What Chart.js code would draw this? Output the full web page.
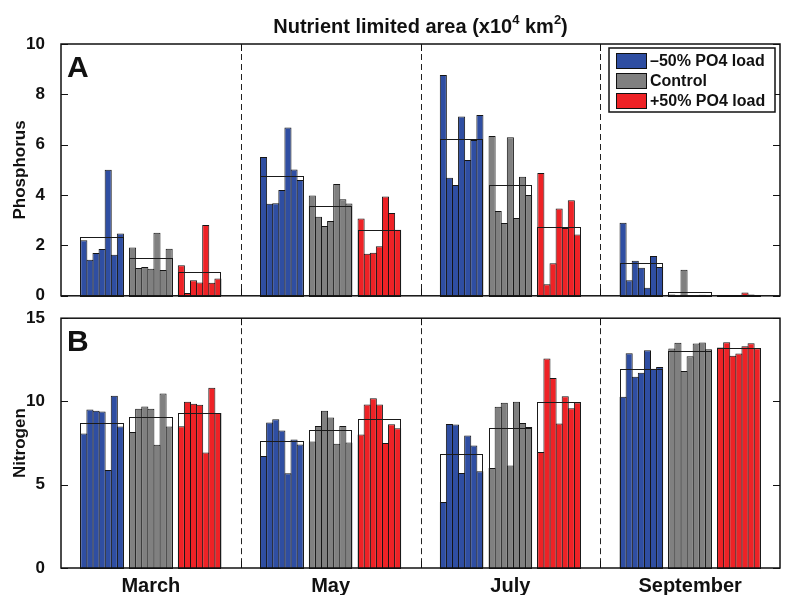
<!DOCTYPE html>
<html>
<head>
<meta charset="utf-8">
<script src="https://cdn.jsdelivr.net/npm/chart.js@4.4.1/dist/chart.umd.min.js"></script>
<style>
  html, body { margin: 0; padding: 0; background: #fff; }
  #wrap { position: relative; width: 785px; height: 595px; }
  canvas { position: absolute; left: 0; }
  #cA { top: 0; }
  #cB { top: 300px; }
</style>
</head>
<body>
<div id="wrap">
  <canvas id="cA" width="785" height="314"></canvas>
  <canvas id="cB" width="785" height="295"></canvas>
</div>
<script>
const months = ['March', 'May', 'July', 'September'];
const treatments = ['\u201350% PO4 load', 'Control', '+50% PO4 load'];
const colors = ['#2f4ea2', '#808080', '#ee2226'];
const phosTicks = [0, 2, 4, 6, 8, 10];
const nitroTicks = [0, 5, 10, 15];

// Phosphorus limited area (x10^4 km^2): one row per month, seven years each
const phosLow = [
  [2.21, 1.43, 1.70, 1.86, 5.01, 1.63, 2.47],
  [5.51, 3.66, 3.68, 4.20, 6.68, 5.02, 4.60],
  [8.77, 4.69, 4.40, 7.12, 5.39, 6.19, 7.18],
  [2.90, 0.62, 1.39, 1.11, 0.32, 1.58, 1.14]
];
const phosControl = [
  [1.92, 1.10, 1.14, 1.07, 2.50, 1.02, 1.87],
  [3.98, 3.14, 2.77, 2.97, 4.44, 3.83, 3.67],
  [6.35, 3.37, 2.89, 6.30, 3.09, 4.73, 4.00],
  [0.05, 0.03, 1.03, 0.02, 0.00, 0.04, 0.02]
];
const phosHigh = [
  [1.21, 0.11, 0.62, 0.53, 2.81, 0.52, 0.69],
  [3.07, 1.67, 1.71, 1.97, 3.94, 3.29, 2.62],
  [4.88, 0.46, 1.29, 3.47, 2.69, 3.79, 2.43],
  [0.01, 0.02, 0.03, 0.02, 0.13, 0.05, 0.02]
];
const phosLowMean = [2.33, 4.77, 6.24, 1.30];
const phosControlMean = [1.51, 3.55, 4.39, 0.17];
const phosHighMean = [0.94, 2.62, 2.72, 0.04];

// Nitrogen limited area (x10^4 km^2)
const nitroLow = [
  [8.07, 9.52, 9.44, 9.40, 5.88, 10.34, 8.49],
  [6.72, 8.73, 8.93, 8.25, 5.69, 7.71, 7.42],
  [3.96, 8.65, 8.61, 5.71, 7.95, 7.36, 5.81],
  [10.28, 12.90, 11.49, 11.73, 13.08, 11.97, 12.07]
];
const nitroControl = [
  [8.17, 9.56, 9.70, 9.56, 7.40, 10.48, 8.49],
  [7.59, 8.53, 9.44, 9.03, 7.46, 8.53, 7.53],
  [6.00, 9.68, 9.92, 6.16, 9.98, 8.71, 8.47],
  [13.18, 13.52, 11.83, 12.72, 13.48, 13.54, 13.14]
];
const nitroHigh = [
  [8.51, 9.98, 9.86, 9.80, 6.94, 10.83, 9.30],
  [8.01, 9.82, 10.20, 9.82, 7.50, 8.63, 8.39],
  [6.96, 12.58, 11.41, 8.67, 10.32, 9.60, 9.94],
  [13.24, 13.56, 12.74, 12.88, 13.32, 13.50, 13.20]
];
const nitroLowMean = [8.73, 7.63, 6.86, 11.93];
const nitroControlMean = [9.05, 8.29, 8.41, 13.06];
const nitroHighMean = [9.32, 8.93, 9.94, 13.22];

const FONT = '"Liberation Sans", Arial, Helvetica, sans-serif';
Chart.defaults.font.family = FONT;
Chart.defaults.color = '#111';

const YEARS = 7;
// three groups of seven yearly bars, separated by one empty slot
function buildDatasets(groups) {
  const ds = [];
  groups.forEach((rows, g) => {
    if (g > 0) {
      ds.push({ label: 'gap', data: months.map(() => null), backgroundColor: 'rgba(0,0,0,0)', borderWidth: 0 });
    }
    for (let yr = 0; yr < YEARS; yr++) {
      ds.push({
        label: treatments[g] + ' #' + (yr + 1),
        data: rows.map(r => r[yr]),
        backgroundColor: colors[g],
        borderColor: '#151515',
        borderWidth: 1
      });
    }
  });
  return ds;
}
const groupIndex = [[0, 6], [8, 14], [16, 22]];

// frame, dividers, tick marks, mean boxes, labels
const panelDecor = {
  id: 'panelDecor',
  afterDatasetsDraw(chart, args, o) {
    const { ctx, chartArea: a, scales: { x, y } } = chart;
    ctx.save();
    // mean of the seven years, as an open box spanning the group
    ctx.lineWidth = 1;
    ctx.strokeStyle = '#1a1a1a';
    o.means.forEach((means, g) => {
      const m0 = chart.getDatasetMeta(groupIndex[g][0]);
      const m1 = chart.getDatasetMeta(groupIndex[g][1]);
      means.forEach((m, i) => {
        const b0 = m0.data[i], b1 = m1.data[i];
        const left = Math.round(b0.x - b0.width / 2) + 0.5;
        const right = Math.round(b1.x + b1.width / 2) - 0.5;
        const top = Math.round(y.getPixelForValue(m)) + 0.5;
        const bottom = Math.round(y.getPixelForValue(0)) + 0.5;
        ctx.strokeRect(left, top, right - left, bottom - top);
      });
    });
    // dashed month dividers
    ctx.setLineDash([6, 4]);
    ctx.lineWidth = 1;
    ctx.strokeStyle = '#222';
    const divs = [];
    for (let i = 0; i < months.length - 1; i++) {
      const xp = Math.round((x.getPixelForValue(i) + x.getPixelForValue(i + 1)) / 2) + 0.5;
      divs.push(xp);
      ctx.beginPath();
      ctx.moveTo(xp, a.top);
      ctx.lineTo(xp, a.bottom);
      ctx.stroke();
    }
    ctx.setLineDash([]);
    // inward tick marks
    ctx.strokeStyle = '#111';
    ctx.lineWidth = 1;
    o.ticks.forEach(t => {
      const yp = Math.round(y.getPixelForValue(t)) + 0.5;
      ctx.beginPath();
      ctx.moveTo(a.left, yp); ctx.lineTo(a.left + 7, yp);
      ctx.moveTo(a.right - 7, yp); ctx.lineTo(a.right, yp);
      ctx.stroke();
    });
    divs.forEach(xp => {
      ctx.beginPath();
      ctx.moveTo(xp, a.top); ctx.lineTo(xp, a.top + 7);
      ctx.moveTo(xp, a.bottom - 7); ctx.lineTo(xp, a.bottom);
      ctx.stroke();
    });
    // axes box
    ctx.lineWidth = 1.5;
    ctx.strokeStyle = '#111';
    ctx.strokeRect(a.left, a.top, a.right - a.left, a.bottom - a.top);
    // panel letter
    ctx.fillStyle = '#111';
    ctx.font = 'bold 30px ' + FONT;
    ctx.textAlign = 'left';
    ctx.textBaseline = 'alphabetic';
    ctx.fillText(o.letter, a.left + 6, a.top + 33);
    // y axis title
    ctx.font = 'bold 17px ' + FONT;
    ctx.textAlign = 'center';
    ctx.textBaseline = 'middle';
    ctx.translate(20, (a.top + a.bottom) / 2);
    ctx.rotate(-Math.PI / 2);
    ctx.fillText(o.yTitle, 0, 0);
    ctx.restore();

    if (o.title) drawTitle(ctx, (a.left + a.right) / 2, 33);
    if (o.legend) drawLegend(ctx);
  }
};

function drawTitle(ctx, cx, base) {
  const big = 'bold 20px ' + FONT, small = 'bold 13px ' + FONT;
  const parts = [
    ['Nutrient limited area (x10', big, 0],
    ['4', small, -9],
    [' km', big, 0],
    ['2', small, -9],
    [')', big, 0]
  ];
  ctx.save();
  let total = 0;
  parts.forEach(p => { ctx.font = p[1]; total += ctx.measureText(p[0]).width; });
  let xp = cx - total / 2;
  ctx.fillStyle = '#111';
  ctx.textAlign = 'left';
  ctx.textBaseline = 'alphabetic';
  parts.forEach(p => {
    ctx.font = p[1];
    ctx.fillText(p[0], xp, base + p[2]);
    xp += ctx.measureText(p[0]).width;
  });
  ctx.restore();
}

function drawLegend(ctx) {
  ctx.save();
  ctx.fillStyle = '#fff';
  ctx.fillRect(609, 48, 166, 64);
  ctx.lineWidth = 1.5;
  ctx.strokeStyle = '#111';
  ctx.strokeRect(609, 48, 166, 64);
  ctx.font = 'bold 16px ' + FONT;
  ctx.textAlign = 'left';
  ctx.textBaseline = 'middle';
  treatments.forEach((t, i) => {
    const cy = 60.5 + i * 20;
    ctx.fillStyle = colors[i];
    ctx.fillRect(616, cy - 7.5, 31, 15);
    ctx.lineWidth = 1;
    ctx.strokeStyle = '#111';
    ctx.strokeRect(616.5, cy - 7, 30, 15);
    ctx.fillStyle = '#111';
    ctx.fillText(t, 650, cy + 1);
  });
  ctx.restore();
}

function makeChart(id, groups, maxY, step, opts) {
  const slot = 179.75 * 0.78 / 23;
  const xScale = {
    display: opts.showX,
    grid: { display: false },
    border: { display: false },
    ticks: { font: { size: 20, weight: 'bold' }, color: '#111', padding: -2 }
  };
  if (opts.showX) xScale.afterFit = s => { s.height = 27; };
  return new Chart(document.getElementById(id), {
    type: 'bar',
    data: { labels: months, datasets: buildDatasets(groups) },
    plugins: [panelDecor],
    options: {
      responsive: false,
      animation: false,
      devicePixelRatio: 1,
      layout: { padding: opts.padding },
      datasets: { bar: { categoryPercentage: 0.78, barPercentage: (slot + 1) / slot } },
      scales: {
        x: xScale,
        y: {
          min: 0, max: maxY,
          grid: { display: false },
          border: { display: false },
          ticks: { stepSize: step, font: { size: 17, weight: 'bold' }, color: '#111', padding: 8 },
          afterFit: s => { s.width = 61; }
        }
      },
      plugins: {
        legend: { display: false },
        tooltip: { enabled: false },
        panelDecor: opts.decor
      }
    }
  });
}

makeChart('cA', [phosLow, phosControl, phosHigh], 10, 2, {
  padding: { top: 44, right: 5, bottom: 5, left: 0 },
  showX: false,
  decor: {
    letter: 'A', yTitle: 'Phosphorus', ticks: phosTicks, title: true, legend: true,
    means: [phosLowMean, phosControlMean, phosHighMean]
  }
});

makeChart('cB', [nitroLow, nitroControl, nitroHigh], 15, 5, {
  padding: { top: 16, right: 5, bottom: 0, left: 0 },
  showX: true,
  decor: {
    letter: 'B', yTitle: 'Nitrogen', ticks: nitroTicks, title: false, legend: false,
    means: [nitroLowMean, nitroControlMean, nitroHighMean]
  }
});
</script>
</body>
</html>
